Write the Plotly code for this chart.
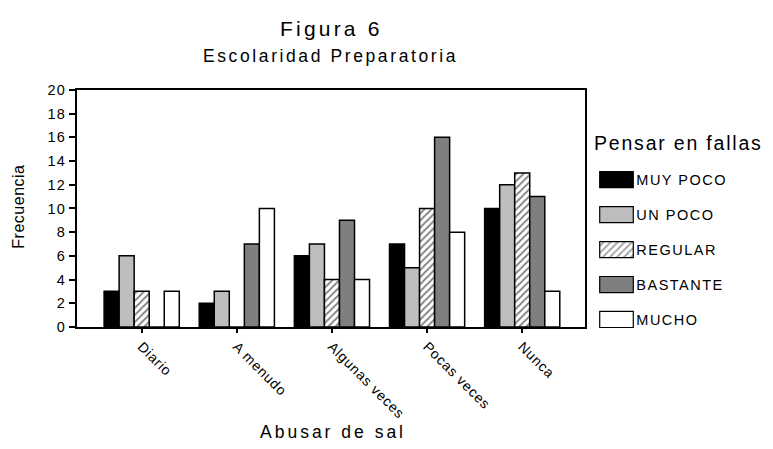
import plotly.graph_objects as go

W, H = 773, 449

categories = ["Diario", "A menudo", "Algunas veces", "Pocas veces", "Nunca"]
series_names = ["MUY POCO", "UN POCO", "REGULAR", "BASTANTE", "MUCHO"]
muy_poco = [3, 2, 6, 7, 10]
un_poco = [6, 3, 7, 5, 12]
regular = [3, 0, 4, 10, 13]
bastante = [0, 7, 9, 16, 11]
mucho = [3, 10, 4, 8, 3]
y_ticks = [0, 2, 4, 6, 8, 10, 12, 14, 16, 18, 20]

series_values = [muy_poco, un_poco, regular, bastante, mucho]
fills = ["#000000", "#bebebe", "#ffffff", "#7f7f7f", "#ffffff"]
patterns = ["", "", "/", "", ""]

FONT = "Liberation Sans, Arial, sans-serif"


def sp(text, ls):
    return f'<span style="letter-spacing:{ls}px">{text}</span>'


def px_x(x):
    return x / W


def px_y(y):
    return 1 - y / H


fig = go.Figure()

for name, vals, col, pat in zip(series_names, series_values, fills, patterns):
    fig.add_trace(go.Bar(
        x=categories, y=vals, name=name,
        marker=dict(color=col, line=dict(color="black", width=1.5),
                    pattern=dict(shape=pat, fgcolor="black", bgcolor="white",
                                 size=5, solidity=0.35)),
        xaxis="x", yaxis="y", showlegend=False,
    ))

# legend swatches drawn as bars on an auxiliary subplot
fig.add_trace(go.Bar(
    x=[1] * len(series_names), y=series_names, orientation="h", width=0.46,
    marker=dict(color=fills, line=dict(color="black", width=1.2),
                pattern=dict(shape=patterns, fgcolor="black", bgcolor="white",
                             size=5, solidity=0.35)),
    xaxis="x2", yaxis="y2", showlegend=False, hoverinfo="skip",
))

fig.update_layout(
    width=W, height=H,
    margin=dict(l=0, r=0, t=0, b=0),
    paper_bgcolor="white", plot_bgcolor="white",
    barmode="group", bargap=0.21, bargroupgap=0,
    font=dict(family=FONT, color="black"),
    xaxis=dict(
        domain=[px_x(77), px_x(585)], anchor="y", type="category",
        range=[-0.68, 4.66],
        tickmode="array", tickvals=categories,
        ticktext=[sp(c, 0.8) for c in categories],
        tickangle=45, ticks="outside", ticklen=4, tickwidth=1.5,
        tickcolor="black",
        showline=True, linecolor="black", linewidth=2, mirror=True,
        showgrid=False, tickfont=dict(size=14, family=FONT),
    ),
    yaxis=dict(
        domain=[px_y(330.7), px_y(85)], anchor="x",
        range=[0, 20], tickmode="array", tickvals=y_ticks,
        ticktext=[sp(str(v), 1.2) for v in y_ticks],
        ticks="outside", ticklen=6, tickwidth=1.5, tickcolor="black",
        showline=True, linecolor="black", linewidth=2, mirror=True,
        showgrid=False, zeroline=False, tickfont=dict(size=14.5, family=FONT),
    ),
    xaxis2=dict(
        domain=[px_x(598.7), px_x(634.3)], anchor="y2", range=[-0.03, 1.03],
        visible=False, fixedrange=True,
    ),
    yaxis2=dict(
        domain=[px_y(341.1), px_y(159.9)], anchor="x2", type="category",
        categoryorder="array", categoryarray=series_names,
        range=[4.5, -0.5], side="right",
        tickmode="array", tickvals=series_names,
        ticktext=[sp(n, 1.5) for n in series_names],
        ticks="", showline=False, showgrid=False, zeroline=False,
        tickfont=dict(size=14.5, family=FONT), ticklabelstandoff=1,
    ),
    annotations=[
        dict(text=sp("Figura 6", 3.2), x=px_x(331), y=px_y(21), xref="paper",
             yref="paper", showarrow=False, xanchor="center", yanchor="middle",
             font=dict(size=21, family=FONT)),
        dict(text=sp("Escolaridad Preparatoria", 2.6), x=px_x(330), y=px_y(50),
             xref="paper", yref="paper", showarrow=False, xanchor="center",
             yanchor="middle", font=dict(size=17.5, family=FONT)),
        dict(text=sp("Abusar de sal", 3.0), x=px_x(333), y=px_y(440),
             xref="paper", yref="paper", showarrow=False, xanchor="center",
             yanchor="middle", font=dict(size=17.5, family=FONT)),
        dict(text=sp("Frecuencia", 0.5), x=px_x(19), y=px_y(206),
             xref="paper", yref="paper", showarrow=False, xanchor="center",
             yanchor="middle", textangle=-90, font=dict(size=16, family=FONT)),
        dict(text=sp("Pensar en fallas", 1.8), x=px_x(592), y=px_y(140),
             xref="paper", yref="paper", showarrow=False, xanchor="left",
             yanchor="middle", font=dict(size=19.5, family=FONT)),
    ],
)

fig.write_html("out.html")
